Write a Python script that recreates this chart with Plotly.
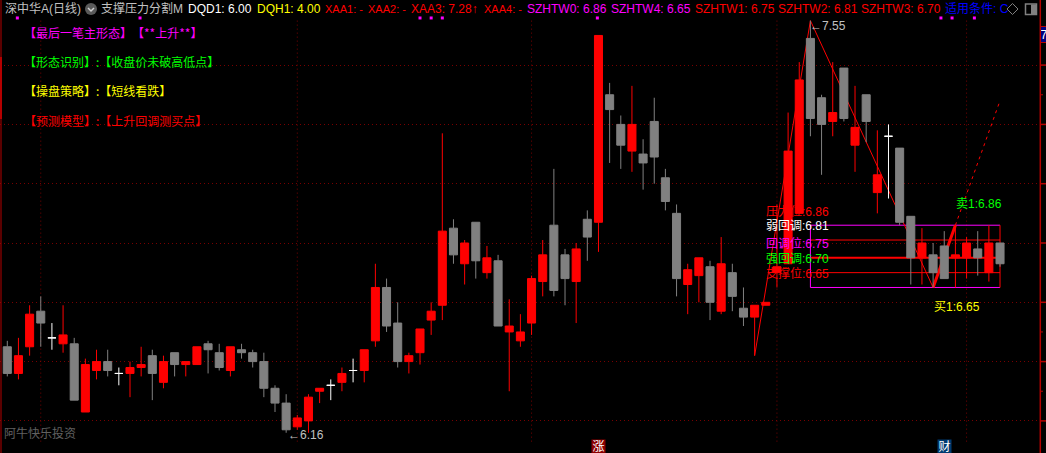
import plotly.graph_objects as go

kinds = ['g','r','r','g','w','r','g','r','r','g','w','r','r','g','r','g','r','r','g','g',
         'r','g','g','g','g','g','r','r','r','w','r','w','r','r','g','g','r','r','r','r',
         'g','r','g','r','g','r','r','r','r','g','g','r','g','r','g','g','r','g','g','g',
         'g','r','r','g','r','g','g','r','r','r','r','r','g','g','r','g','r','g','r','w',
         'g','g','r','g','g','r','r','g','r','g']
body_top = [6.45,6.42,6.56,6.57,6.48,6.49,6.46,6.39,6.40,6.40,6.36,6.38,6.39,6.42,6.40,6.43,6.40,6.45,6.46,6.43,
            6.45,6.44,6.43,6.40,6.31,6.26,6.21,6.28,6.31,6.32,6.36,6.37,6.44,6.65,6.65,6.53,6.42,6.51,6.57,6.84,
            6.85,6.80,6.87,6.75,6.74,6.52,6.50,6.68,6.76,6.86,6.76,6.78,6.88,7.50,7.30,7.20,7.20,7.10,7.21,7.02,
            6.90,6.71,6.75,6.72,6.73,6.70,6.58,6.59,6.60,6.72,7.11,7.35,7.49,7.29,7.24,7.39,7.19,7.30,7.03,7.16,
            7.12,6.89,6.80,6.76,6.79,6.76,6.80,6.78,6.80,6.80]
body_bot = [6.36,6.36,6.45,6.53,6.48,6.46,6.27,6.23,6.37,6.37,6.36,6.36,6.38,6.36,6.33,6.39,6.39,6.39,6.44,6.38,
            6.37,6.43,6.40,6.31,6.26,6.17,6.18,6.20,6.30,6.32,6.33,6.37,6.37,6.47,6.52,6.40,6.40,6.43,6.54,6.59,
            6.76,6.73,6.74,6.70,6.52,6.50,6.47,6.53,6.67,6.64,6.68,6.67,6.82,6.87,7.25,7.13,7.11,7.07,7.09,6.94,
            6.68,6.66,6.69,6.60,6.57,6.62,6.55,6.55,6.59,6.70,6.73,6.90,7.22,7.20,7.21,7.22,7.13,7.21,6.97,7.16,
            6.87,6.75,6.75,6.70,6.68,6.75,6.75,6.75,6.70,6.73]
highs = [6.47,6.48,6.59,6.62,6.53,6.59,6.48,6.41,6.44,6.44,6.38,6.40,6.45,6.44,6.42,6.43,6.40,6.45,6.47,6.46,
         6.45,6.46,6.44,6.43,6.32,6.29,6.22,6.29,6.31,6.34,6.38,6.41,6.44,6.73,6.68,6.60,6.43,6.51,6.60,7.17,
         6.88,6.81,6.87,6.79,6.76,6.61,6.56,6.69,6.81,7.05,6.78,6.80,6.91,7.50,7.34,7.23,7.33,7.15,7.29,7.05,
         6.93,6.73,6.75,6.74,6.82,6.73,6.65,6.59,6.60,6.93,7.24,7.41,7.55,7.30,7.41,7.39,7.33,7.30,7.18,7.20,
         7.12,6.89,6.85,6.80,6.84,6.86,6.82,6.84,6.86,6.80]
lows = [6.35,6.34,6.42,6.45,6.44,6.43,6.27,6.23,6.34,6.35,6.32,6.28,6.35,6.27,6.31,6.35,6.35,6.39,6.36,6.37,
        6.35,6.41,6.38,6.28,6.23,6.16,6.17,6.16,6.26,6.27,6.30,6.33,6.33,6.45,6.50,6.38,6.36,6.39,6.49,6.54,
        6.73,6.66,6.68,6.68,6.52,6.30,6.45,6.49,6.62,6.62,6.59,6.53,6.74,6.77,7.07,7.05,7.04,6.98,7.00,6.91,
        6.62,6.56,6.60,6.54,6.56,6.57,6.52,6.42,6.59,6.65,6.73,6.90,7.16,7.03,7.16,7.21,7.04,7.14,6.90,6.95,
        6.86,6.66,6.66,6.65,6.68,6.65,6.68,6.69,6.67,6.72]

zig_x = [67, 72, 83, 85]
zig_y = [6.42, 7.55, 6.65, 6.86]
proj_x = [85, 89]
proj_y = [6.86, 7.28]
level_names = ["压力位", "弱回调", "回调位", "强回调", "支撑位"]
level_vals = [6.86, 6.81, 6.75, 6.70, 6.65]
level_colors = ["#ff0000", "#ffffff", "#ff00ff", "#00ff00", "#ff0000"]
box_x0, box_x1 = 72, 89
grid_prices = [7.4, 7.2, 7.0, 6.8, 6.6, 6.4, 6.2]
minor_prices = [7.3, 6.5, 6.3]
grid_idx = [3, 26, 47, 69, 86]
event_idx = [0.9, 11.9, 37, 38, 39, 52.9, 83.7, 84.7, 86.7]

header_texts = ["深中华A(日线)", "支撑压力分割M", "DQD1: 6.00", "DQH1: 4.00", "XAA1: -", "XAA2: -",
                "XAA3: 7.28↑", "XAA4: -", "SZHTW0: 6.86", "SZHTW4: 6.65", "SZHTW1: 6.75",
                "SZHTW2: 6.81", "SZHTW3: 6.70", "适用条件: C"]
header_px = [4, 100, 187, 256, 324, 367, 410, 483, 526, 610, 694, 777, 860, 944]
header_sizes = [12, 12, 12, 12, 11, 11, 12, 11, 12, 12, 12, 12, 12, 12]
header_colors = ["#c0c0c0", "#c0c0c0", "#ffffff", "#ffff00", "#ff0000", "#ff0000", "#ff0000", "#ff0000",
                 "#ff00ff", "#ff00ff", "#ff0000", "#ff0000", "#ff0000", "#0000ff"]
note_texts = ["【最后一笔主形态】", "【**上升**】", "【形态识别】:【收盘价未破高低点】",
              "【操盘策略】:【短线看跌】", "【预测模型】:【上升回调测买点】"]
note_colors = ["#ff00ff", "#ff00ff", "#00ff00", "#ffff00", "#ff0000"]
note_x = [23, 131, 23, 23, 23]
note_py = [32, 32, 61, 90, 120]

W, H = 1046, 453
FONT = "Liberation Sans, Noto Sans CJK SC"
CJK = "Noto Sans CJK SC"
AXIS_X = 1040.3
X_RANGE = [-0.6545, 92.61]
Y_RANGE = [6.0917, 7.6196]
AXIS_RED = "#b40000"
GRID_RED = "#780000"


def px(v):
    return v / W


def py(v):
    return 1 - v / H


idx = list(range(len(kinds)))
fig = go.Figure()

gx, gy = [], []
for g in grid_idx:
    gx += [g, g, None]
    gy += [6.13, 7.56, None]
fig.add_trace(go.Scatter(x=gx, y=gy, mode="lines", line=dict(color=GRID_RED, width=1, dash="1px,3px"), hoverinfo="skip"))
for v, w in zip(level_vals[1:4], [1, 2, 1]):
    fig.add_trace(go.Scatter(x=[box_x0, box_x1], y=[v, v], mode="lines", line=dict(color="#ff0000", width=w), hoverinfo="skip"))
fig.add_trace(go.Scatter(
    x=[box_x1, box_x0, box_x0, box_x1],
    y=[level_vals[0], level_vals[0], level_vals[-1], level_vals[-1]],
    mode="lines", line=dict(color="#ff00ff", width=1), hoverinfo="skip"))
fig.add_trace(go.Scatter(x=[box_x1, box_x1], y=[level_vals[0], level_vals[-1]], mode="lines",
                         line=dict(color="#ff0000", width=1), hoverinfo="skip"))
fig.add_trace(go.Scatter(x=zig_x[:3], y=zig_y[:3], mode="lines", line=dict(color="#ff0000", width=1), hoverinfo="skip"))
fig.add_trace(go.Scatter(x=zig_x[2:], y=zig_y[2:], mode="lines", line=dict(color="#ff0000", width=3), hoverinfo="skip"))
fig.add_trace(go.Scatter(x=proj_x, y=proj_y, mode="lines", line=dict(color="#ff0000", width=1, dash="3px,4px"), hoverinfo="skip"))
fig.add_trace(go.Scatter(x=event_idx, y=[7.559] * len(event_idx), mode="markers",
                         marker=dict(symbol="square", size=3, color="#ff00ff"), hoverinfo="skip"))

sel = [i for i in idx if kinds[i] != 'w']
opens = [body_bot[i] if kinds[i] == 'r' else body_top[i] for i in sel]
closes = [body_top[i] if kinds[i] == 'r' else body_bot[i] for i in sel]
fig.add_trace(go.Candlestick(
    x=sel, open=opens, close=closes,
    high=[highs[i] for i in sel], low=[lows[i] for i in sel],
    xaxis="x2", yaxis="y2", hoverinfo="skip", whiskerwidth=0,
    increasing=dict(line=dict(color="#ff0000", width=1), fillcolor="#ff0000"),
    decreasing=dict(line=dict(color="#808080", width=1), fillcolor="#808080")))
dj = [i for i in idx if kinds[i] == 'w']
fig.add_trace(go.Candlestick(
    x=dj, open=[body_top[i] for i in dj], close=[body_top[i] for i in dj],
    high=[highs[i] for i in dj], low=[lows[i] for i in dj],
    xaxis="x2", yaxis="y2", hoverinfo="skip", whiskerwidth=0,
    increasing=dict(line=dict(color="#ffffff", width=1), fillcolor="#ffffff"),
    decreasing=dict(line=dict(color="#ffffff", width=1), fillcolor="#ffffff")))

ann = []


def paper_text(t, x, y, color, size=12, family=FONT):
    ann.append(dict(text=t, x=px(x), y=py(y), xref="paper", yref="paper", xanchor="left", yanchor="middle",
                    showarrow=False, font=dict(family=family, size=size, color=color), borderpad=0))


for t, x, c, s in zip(header_texts, header_px, header_colors, header_sizes):
    paper_text(t, x, 9, c, size=s)
for t, x, y, c in zip(note_texts, note_x, note_py, note_colors):
    paper_text(t, x, y, c, family=CJK)
paper_text("阿牛快乐投资", 3, 433, "#606060")


def data_text(t, i, v, color, yshift=0, xshift=0):
    ann.append(dict(text=t, x=i, y=v, xref="x", yref="y", xanchor="left", yanchor="middle", showarrow=False,
                    yshift=yshift, xshift=xshift, borderpad=0, font=dict(family=FONT, size=12, color=color)))


for n, v, c in zip(level_names, level_vals, level_colors):
    data_text(f"{n}:{v:.2f}", 68, v, c, yshift=14, xshift=-1)
data_text(f"卖1:{level_vals[0]:.2f}", 85, level_vals[0], "#00ff00", yshift=21)
data_text(f"买1:{level_vals[-1]:.2f}", 83, level_vals[-1], "#ffff00", yshift=-20)
data_text(f"←{zig_y[1]:.2f}", 72, zig_y[1], "#c0c0c0", xshift=-1, yshift=-5)
data_text(f"←{min(lows):.2f}", 25, min(lows), "#c0c0c0", xshift=1, yshift=-2)

for t, i, bg in [("涨", 53, "#8b0000"), ("财", 84, "#003a70")]:
    ann.append(dict(text=t, x=i, y=py(446), xref="x", yref="paper", xanchor="center", yanchor="middle",
                    showarrow=False, bgcolor=bg, borderpad=0, width=13, height=13,
                    font=dict(family=FONT, size=12, color="#ffffff")))

shapes = [
    dict(type="line", xref="paper", yref="paper", x0=px(AXIS_X), x1=px(AXIS_X), y0=0, y1=1,
         line=dict(color=AXIS_RED, width=1.5)),
    dict(type="line", xref="paper", yref="paper", x0=px(1), x1=px(1), y0=0, y1=1,
         line=dict(color=AXIS_RED, width=1)),
    dict(type="rect", xref="paper", yref="paper", x0=0, x1=px(2), y0=py(119), y1=py(57), fillcolor=AXIS_RED, line_width=0),
    dict(type="circle", xref="paper", yref="paper", x0=px(85), x1=px(97), y0=py(15), y1=py(3), fillcolor="#5a5a5a", line_width=0),
    dict(type="path", xref="paper", yref="paper",
         path=f"M {px(88)} {py(8)} L {px(91)} {py(11)} L {px(94)} {py(8)}", line=dict(color="#d0d0d0", width=1.5)),
    dict(type="path", xref="paper", yref="paper",
         path=f"M {px(1007)} {py(9)} L {px(1012.5)} {py(3.5)} L {px(1018)} {py(9)} L {px(1012.5)} {py(14.5)} Z",
         line=dict(color="#808080", width=1)),
    dict(type="rect", xref="paper", yref="paper", x0=px(1025.5), x1=px(1036.5), y0=py(14.5), y1=py(4),
         line=dict(color="#808080", width=1.5)),
    dict(type="rect", xref="paper", yref="paper", x0=px(1031), x1=px(1036), y0=py(14), y1=py(4.5),
         fillcolor="#808080", line_width=0),
]
for p in grid_prices:
    shapes.append(dict(type="line", xref="paper", yref="y", x0=px(AXIS_X), x1=1, y0=p, y1=p,
                       line=dict(color=AXIS_RED, width=1.5)))
for p in minor_prices:
    shapes.append(dict(type="line", xref="paper", yref="y", x0=px(AXIS_X), x1=px(1043), y0=p, y1=p,
                       line=dict(color=AXIS_RED, width=1)))
# small value flag on the price axis
ann.append(dict(text="7", x=px(1043.5), y=py(35), xref="paper", yref="paper", xanchor="center", yanchor="middle",
                showarrow=False, bgcolor="#000080", bordercolor="#b40000", borderwidth=1, borderpad=0,
                width=6, height=15, font=dict(family=FONT, size=12, color="#ffffff")))

fig.update_layout(
    width=W, height=H, margin=dict(l=0, r=0, t=0, b=0, autoexpand=False), autosize=False,
    paper_bgcolor="#000000", plot_bgcolor="#000000", showlegend=False,
    boxgap=0.28, boxgroupgap=0, boxmode="overlay", annotations=ann, shapes=shapes,
    xaxis=dict(domain=[0, AXIS_X / W], range=X_RANGE, showgrid=False, zeroline=False, showticklabels=False, ticks="", showline=False,
               rangeslider=dict(visible=False), fixedrange=True),
    yaxis=dict(range=Y_RANGE, side="right", anchor="x", tickvals=grid_prices, ticks="", showticklabels=False,
               zeroline=False, showline=False, showgrid=True, gridcolor=GRID_RED, griddash="1px,3px", gridwidth=1, fixedrange=True),
    xaxis2=dict(domain=[0, AXIS_X / W], range=X_RANGE, overlaying="x", visible=False, rangeslider=dict(visible=False), fixedrange=True),
    yaxis2=dict(range=Y_RANGE, overlaying="y", anchor="x2", side="right", visible=False, fixedrange=True),
)

fig.write_html("out.html", config=dict(displayModeBar=False),
               post_script="document.body.style.margin='0';document.body.style.background='#000';")
